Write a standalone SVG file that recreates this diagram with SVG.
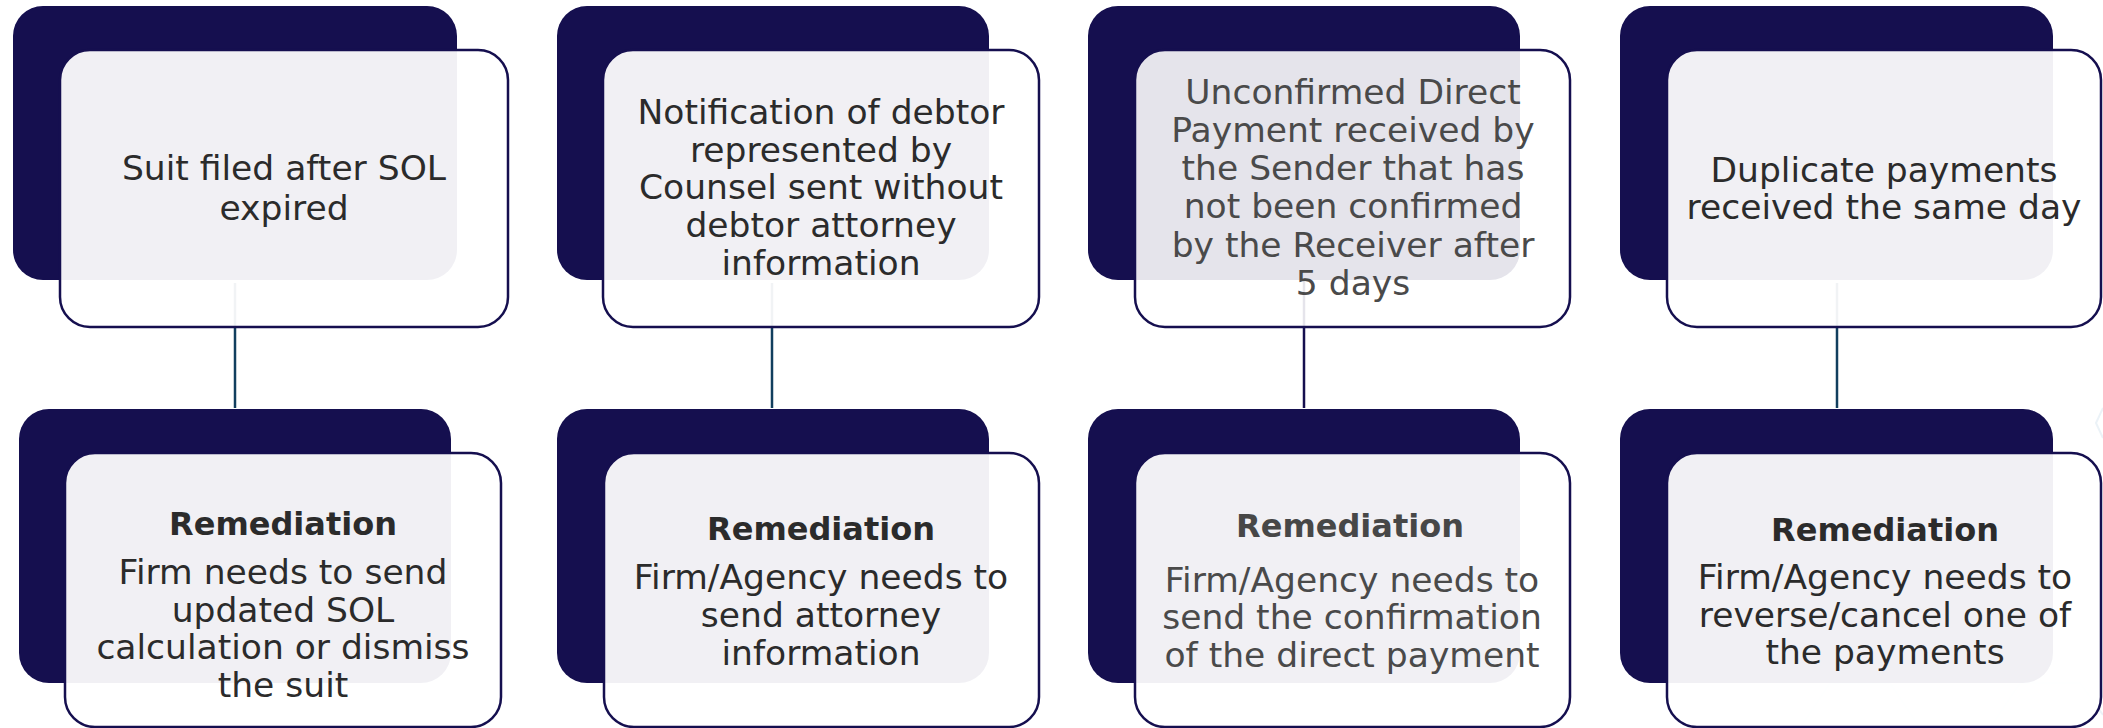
<svg xmlns="http://www.w3.org/2000/svg" width="2103" height="728" viewBox="0 0 2103 728">
  <style>
    .back { fill: #150f4f; }
    .card { fill: #ffffff; fill-opacity: 0.94; stroke: #150f4f; stroke-width: 2.5; }
    .card.dim { fill-opacity: 0.89; }
    .txt { font-family: "DejaVu Sans", "Liberation Sans", sans-serif; font-size: 34.5px; fill: #2b2b2b; text-anchor: middle; }
    .txt.grey { fill: #4a4a4a; }
    .head { font-family: "DejaVu Sans", "Liberation Sans", sans-serif; font-size: 32px; font-weight: bold; fill: #2b2b2b; text-anchor: middle; }
    .head.grey { fill: #474747; }
    .conn { stroke: #123f5e; stroke-width: 2.5; fill: none; }
    .conn.navy { stroke: #150f4f; }
    .deco { stroke: #dde9f1; stroke-width: 2; fill: none; opacity: 0.6; }
  </style>

  <!-- faint background decoration -->
  <g id="decoration">
    <polyline class="deco" points="2103,408 2096,423 2103,438"/>
    <polyline class="deco" points="1800,728 1830,683 1890,683 1920,728"/>
    <polyline class="deco" points="1990,728 2020,683 2080,683 2103,715"/>
  </g>

  <g id="connectors">
    <line class="conn" x1="235" y1="283" x2="235" y2="408"/>
    <line class="conn" x1="772" y1="283" x2="772" y2="408"/>
    <line class="conn navy" x1="1304" y1="250" x2="1304" y2="408"/>
    <line class="conn" x1="1837" y1="283" x2="1837" y2="408"/>
  </g>

  <!-- Top row -->
  <g id="issue-1">
    <rect class="back" x="13" y="6" width="444" height="274" rx="30"/>
    <rect class="card" x="60" y="50" width="448" height="277" rx="30"/>
    <text class="txt"><tspan x="284" y="180">Suit filed after SOL</tspan><tspan x="284" y="220">expired</tspan></text>
  </g>

  <g id="issue-2">
    <rect class="back" x="557" y="6" width="432" height="274" rx="30"/>
    <rect class="card" x="603" y="50" width="436" height="277" rx="30"/>
    <text class="txt"><tspan x="821" y="124">Notification of debtor</tspan><tspan x="821" y="162">represented by</tspan><tspan x="821" y="199">Counsel sent without</tspan><tspan x="821" y="237">debtor attorney</tspan><tspan x="821" y="275">information</tspan></text>
  </g>

  <g id="issue-3">
    <rect class="back" x="1088" y="6" width="432" height="274" rx="30"/>
    <rect class="card dim" x="1135" y="50" width="435" height="277" rx="30"/>
    <text class="txt grey"><tspan x="1353" y="104">Unconfirmed Direct</tspan><tspan x="1353" y="142">Payment received by</tspan><tspan x="1353" y="180">the Sender that has</tspan><tspan x="1353" y="218">not been confirmed</tspan><tspan x="1353" y="257">by the Receiver after</tspan><tspan x="1353" y="295">5 days</tspan></text>
  </g>

  <g id="issue-4">
    <rect class="back" x="1620" y="6" width="433" height="274" rx="30"/>
    <rect class="card" x="1667" y="50" width="434" height="277" rx="30"/>
    <text class="txt"><tspan x="1884" y="182">Duplicate payments</tspan><tspan x="1884" y="219">received the same day</tspan></text>
  </g>

  <!-- Bottom row -->
  <g id="remediation-1">
    <rect class="back" x="19" y="409" width="432" height="274" rx="30"/>
    <rect class="card" x="65" y="453" width="436" height="274" rx="30"/>
    <text class="head" x="283" y="535">Remediation</text>
    <text class="txt"><tspan x="283" y="584">Firm needs to send</tspan><tspan x="283" y="622">updated SOL</tspan><tspan x="283" y="659">calculation or dismiss</tspan><tspan x="283" y="697">the suit</tspan></text>
  </g>

  <g id="remediation-2">
    <rect class="back" x="557" y="409" width="432" height="274" rx="30"/>
    <rect class="card" x="604" y="453" width="435" height="274" rx="30"/>
    <text class="head" x="821" y="540">Remediation</text>
    <text class="txt"><tspan x="821" y="589">Firm/Agency needs to</tspan><tspan x="821" y="627">send attorney</tspan><tspan x="821" y="665">information</tspan></text>
  </g>

  <g id="remediation-3">
    <rect class="back" x="1088" y="409" width="432" height="274" rx="30"/>
    <rect class="card" x="1135" y="453" width="435" height="274" rx="30"/>
    <text class="head grey" x="1350" y="537">Remediation</text>
    <text class="txt grey"><tspan x="1352" y="592">Firm/Agency needs to</tspan><tspan x="1352" y="629">send the confirmation</tspan><tspan x="1352" y="667">of the direct payment</tspan></text>
  </g>

  <g id="remediation-4">
    <rect class="back" x="1620" y="409" width="433" height="274" rx="30"/>
    <rect class="card" x="1667" y="453" width="434" height="274" rx="30"/>
    <text class="head" x="1885" y="541">Remediation</text>
    <text class="txt"><tspan x="1885" y="589">Firm/Agency needs to</tspan><tspan x="1885" y="627">reverse/cancel one of</tspan><tspan x="1885" y="664">the payments</tspan></text>
  </g>
</svg>
